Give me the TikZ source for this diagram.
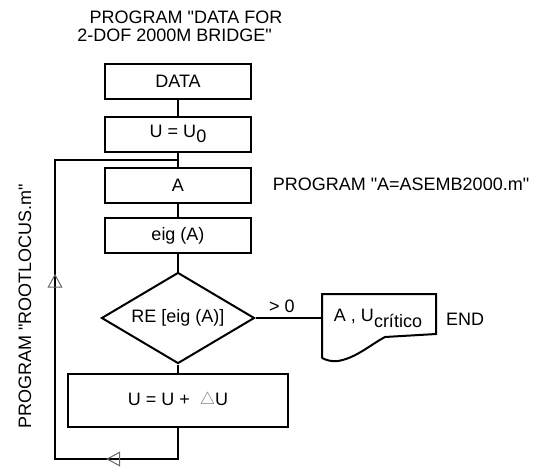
\documentclass[tikz,border=0pt]{standalone}
\usepackage{fontspec}
\setmainfont{Liberation Sans}[Ligatures=TeXOff]
\usetikzlibrary{shapes.geometric,arrows.meta,decorations.markings}
\tikzset{looptip/.tip={Triangle[open,length=14pt,width=15pt,color=gray!80!black,line width=1pt]}}
\begin{document}
\begin{tikzpicture}[x=1pt,y=-1pt,
  font=\fontsize{18}{20}\selectfont,
  line width=2pt,
  box/.style={draw,rectangle,inner sep=0pt,minimum width=146pt,minimum height=35pt},
  txt/.style={inner sep=0pt},
  loopmark/.style={postaction={decorate},decoration={markings,
    mark=at position 0.1785 with {\arrow{looptip}},
    mark=at position 0.589 with {\arrow{looptip}}}}
]
\useasboundingbox (0,0) rectangle (549,466);

\node[txt] (t1) at (186,17) {PROGRAM "DATA FOR};
\node[txt] (t2) at (174.5,35) {2-DOF 2000M BRIDGE"};

\node[box] (data) at (178,81) {DATA};
\node[box] (u0) at (178,134) {U = U\raisebox{-5pt}{0}};
\node[box] (a) at (178,185.5) {A};
\node[txt] (pa) at (401,184) {PROGRAM "A=ASEMB2000.m"};
\node[box] (eig) at (178,235.5) {eig (A)};
\node[draw,diamond,inner sep=0pt,shape aspect=1.68,minimum width=153pt,minimum height=91pt] (dia) at (178,318) {RE [eig (A)]};
\node[box,minimum width=220pt,minimum height=53pt] (u) at (178,400.5) {U = U +\ \ {\color{gray}\raisebox{0.5pt}{$\triangle$}}U\hspace{39pt}};

\node[txt] (gt) at (282,306) {> 0};
\coordinate (docL) at (322,318);
\draw (322,358) -- (322,294) -- (436,294) -- (436,334) -- (385,337)
  .. controls (370,345) and (356,358) .. (338,361)
  .. controls (332,362) and (326,360) .. (322,358);
\node[txt] (doc) at (378,318) {A , U\raisebox{-6pt}{crítico}};
\node[txt] (end) at (465,319) {END};

\node[txt,rotate=90] (rl) at (25,306) {PROGRAM "ROOTLOCUS.m"};

\draw (data) -- (u0);
\draw (u0) -- (a);
\draw (a) -- (eig);
\draw (eig) -- (dia);
\draw (dia) -- (u);
\draw (dia.east) -- (docL);

\coordinate (j) at (178,160);
\coordinate (bl) at (55,459);
\draw[loopmark] (u.south) |- (bl) |- (j);
\end{tikzpicture}
\end{document}
